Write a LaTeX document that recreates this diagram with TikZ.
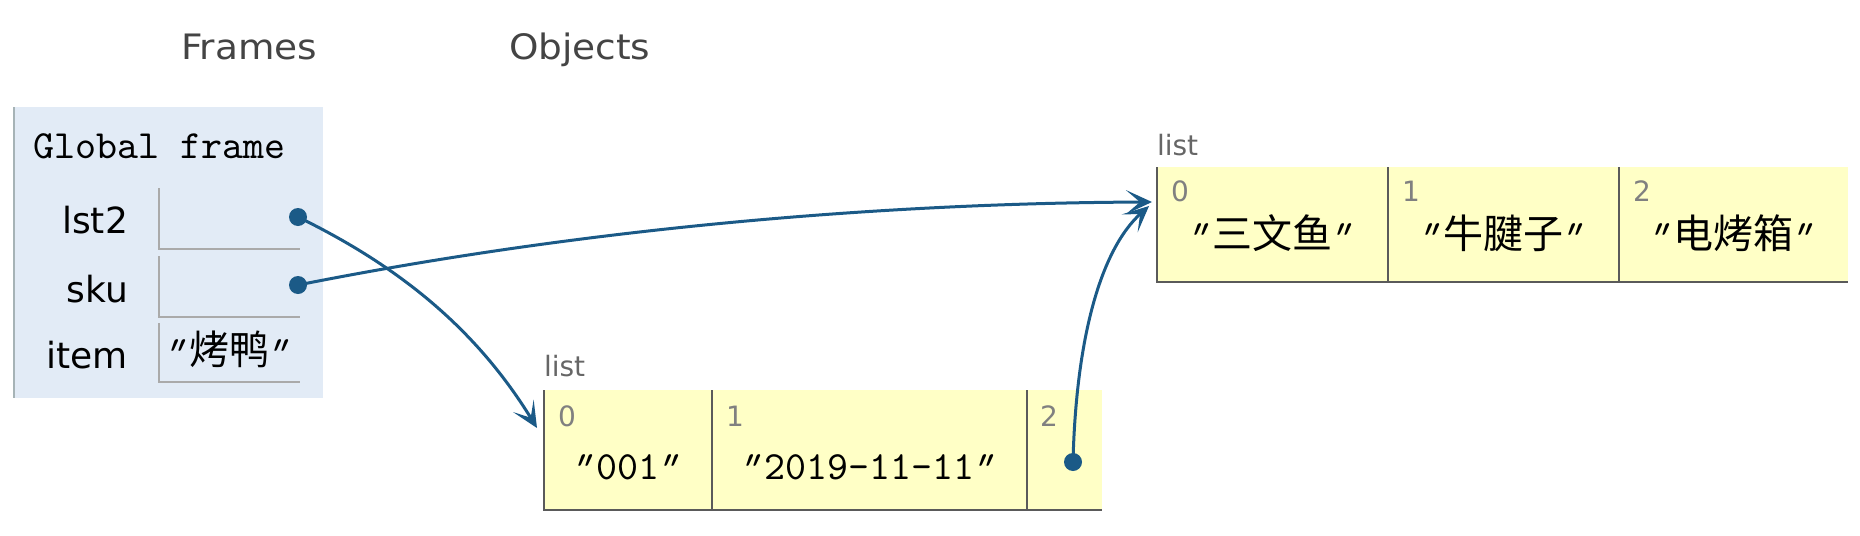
\documentclass[tikz,border=0pt]{standalone}
\usepackage{fontspec}
\setmainfont{DejaVu Sans}
\newfontfamily\hdrfont[FakeStretch=1.07]{DejaVu Sans}
\newfontfamily\cjk{Noto Sans CJK SC}
\newfontfamily\mono{lmmono10-regular.otf}
\newfontfamily\qfont[FakeSlant=0.4]{lmmono10-regular.otf}
\usetikzlibrary{arrows.meta}
\definecolor{ptrc}{HTML}{1B5A87}
\definecolor{framebg}{HTML}{E2EBF6}
\definecolor{framebd}{HTML}{A6B3B6}
\definecolor{cellbd}{HTML}{AAAAAA}
\definecolor{listbg}{HTML}{FFFFC6}
\definecolor{listbd}{HTML}{5A5A5A}
\definecolor{idxc}{HTML}{808080}
\definecolor{typec}{HTML}{666666}
\definecolor{hdrc}{HTML}{444444}
\newcommand\qo{\kern-0.2em{\qfont"}\kern0.2em}
\newcommand\qc{\kern-0.15em{\qfont"}\kern0.15em}
\tikzset{
  every node/.style={inner sep=0pt, outer sep=0pt},
  hdr/.style={anchor=base west, text=hdrc, font=\hdrfont\fontsize{17.5}{20}\selectfont},
  varname/.style={anchor=base east, font=\fontsize{18}{20}\selectfont},
  vcell/.style={anchor=north west, minimum width=70.5pt, minimum height=30.5pt},
  vline/.style={draw=cellbd, line width=1pt},
  lcell/.style={anchor=north west, fill=listbg},
  lline/.style={draw=listbd, line width=1pt},
  typelbl/.style={anchor=base west, text=typec, font=\fontsize{14}{16}\selectfont},
  idx/.style={anchor=base west, text=idxc, font=\fontsize{14}{16}\selectfont},
  val/.style={anchor=base, font=\fontsize{20}{22}\selectfont},
  ptr/.style={draw=ptrc, line width=1.5pt, -{Stealth[length=13pt,width=12pt,inset=7pt]}},
  ptrdot/.style={circle, fill=ptrc, minimum size=9pt}
}
\begin{document}
\begin{tikzpicture}[x=0.5pt,y=-0.5pt]
\useasboundingbox (0,0) rectangle (1860,536);
% headers
\node[hdr] (hframes) at (181,59) {Frames};
\node[hdr] (hobjects) at (509,59) {Objects};
% frame
\node[anchor=north west, fill=framebg, minimum width=154.5pt, minimum height=145.5pt] (frame) at (14,107) {};
\draw[draw=framebd, line width=1pt] (frame.north west) -- (frame.south west);
\node[anchor=base west, font=\mono\fontsize{20}{22}\selectfont] (gf) at (33,158) {Global frame};
% variable cells
\node[vcell] (v1) at (159,188) {};
\node[vcell] (v2) at (159,256) {};
\node[vcell, minimum height=29.5pt] (v3) at (159,323) {};
\foreach \c in {v1,v2,v3} \draw[vline] (\c.north west) -- (\c.south west) -- (\c.south east);
\node[varname] (n1) at (128,233) {lst2};
\node[varname] (n2) at (128,302) {sku};
\node[varname] (n3) at (128,368) {item};
\node[val] (itemval) at (229.5,364) {\qo{\cjk 烤鸭}\qc};
% list 1
\node[typelbl] (lt1) at (544,376) {list};
\node[lcell, minimum width=84pt, minimum height=60pt] (a0) at (544,390) {};
\node[lcell, minimum width=157.5pt, minimum height=60pt] (a1) at (712,390) {};
\node[lcell, minimum width=37.5pt, minimum height=60pt] (a2) at (1027,390) {};
\foreach \c in {a0,a1,a2} \draw[lline] (\c.north west) -- (\c.south west) -- (\c.south east);
\node[idx] (ai0) at (558,426) {0};
\node[idx] (ai1) at (726,426) {1};
\node[idx] (ai2) at (1040,426) {2};
\node[val] (av0) at (628,479) {\qo{\mono 001}\qc};
\node[val] (av1) at (869.5,479) {\qo{\mono 2019-11-11}\qc};
% list 2
\node[typelbl] (lt2) at (1157,155) {list};
\node[lcell, minimum width=115.5pt, minimum height=57.5pt] (b0) at (1157,167) {};
\node[lcell, minimum width=115.5pt, minimum height=57.5pt] (b1) at (1388,167) {};
\node[lcell, minimum width=114.5pt, minimum height=57.5pt] (b2) at (1619,167) {};
\foreach \c in {b0,b1,b2} \draw[lline] (\c.north west) -- (\c.south west) -- (\c.south east);
\node[idx] (bi0) at (1171,201) {0};
\node[idx] (bi1) at (1402,201) {1};
\node[idx] (bi2) at (1633,201) {2};
\node[val] (bv0) at (1272.5,248) {\qo{\cjk 三文鱼}\qc};
\node[val] (bv1) at (1503.5,248) {\qo{\cjk 牛腱子}\qc};
\node[val] (bv2) at (1733.5,248) {\qo{\cjk 电烤箱}\qc};
% pointer ends
\coordinate (t1) at (537,428);
\coordinate (t2) at (1152,202);
\coordinate (t3) at (1149,206);
\coordinate (d1) at (298,217);
\coordinate (d2) at (298,285);
\coordinate (d3) at (1073,462);
% arrows
\draw[ptr] (d1) .. controls (390,262) and (472,322) .. (t1);
\draw[ptr] (d2) .. controls (600,225) and (900,203) .. (t2);
\draw[ptr] (d3) .. controls (1076,340) and (1100,250) .. (t3);
\node[ptrdot] (p1) at (d1) {};
\node[ptrdot] (p2) at (d2) {};
\node[ptrdot] (p3) at (d3) {};
\end{tikzpicture}
\end{document}
